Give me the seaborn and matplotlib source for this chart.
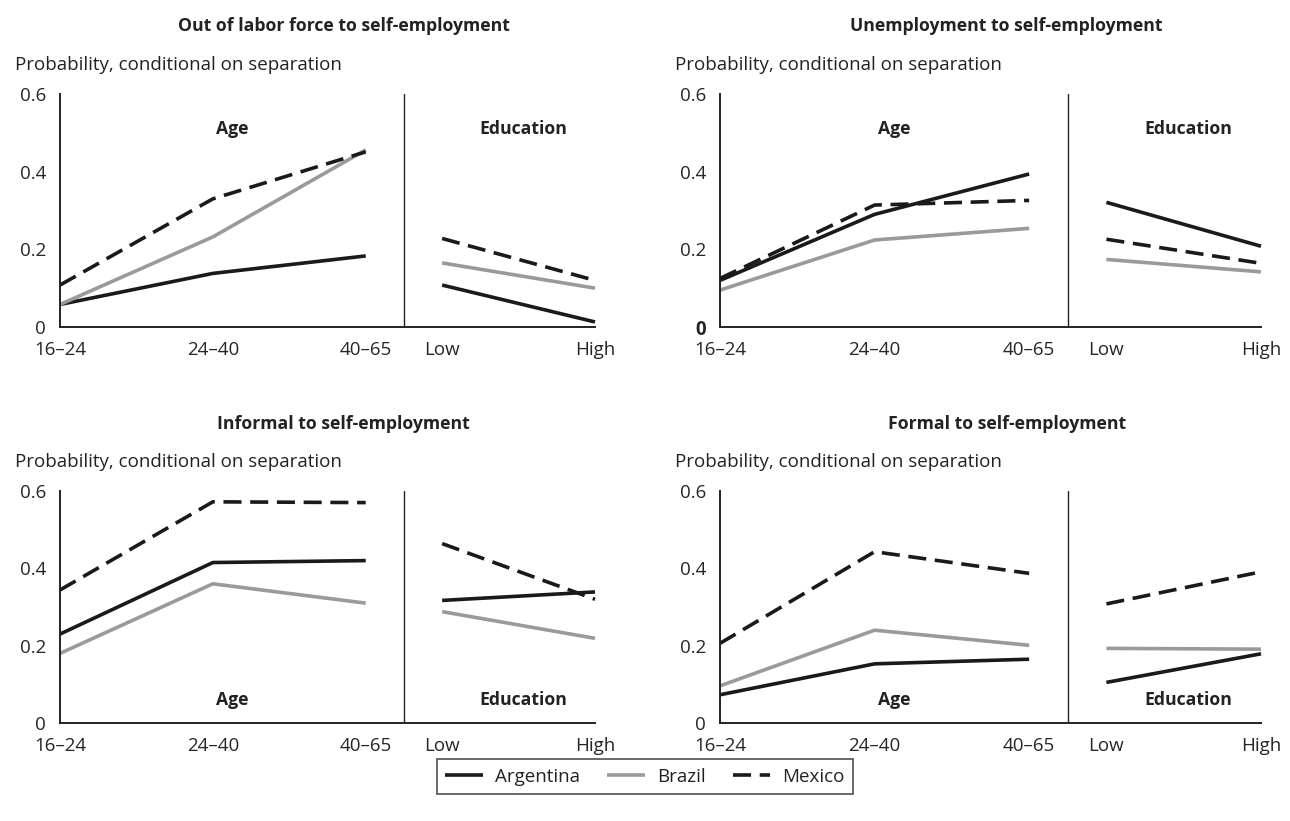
import numpy as np
import pandas as pd
import seaborn as sns
import matplotlib.pyplot as plt

countries = ["Argentina", "Brazil", "Mexico"]
age_groups = ["16–24", "24–40", "40–65"]
edu_groups = ["Low", "High"]

panel_titles = [
    "Out of labor force to self-employment",
    "Unemployment to self-employment",
    "Informal to self-employment",
    "Formal to self-employment",
]

# each list: three age groups, then low / high education
olf_values = {
    "Argentina": [0.058, 0.138, 0.183, 0.108, 0.013],
    "Brazil": [0.058, 0.232, 0.456, 0.165, 0.100],
    "Mexico": [0.108, 0.330, 0.451, 0.228, 0.120],
}
unemp_values = {
    "Argentina": [0.120, 0.290, 0.394, 0.321, 0.208],
    "Brazil": [0.095, 0.224, 0.254, 0.174, 0.142],
    "Mexico": [0.125, 0.314, 0.326, 0.226, 0.164],
}
informal_values = {
    "Argentina": [0.230, 0.415, 0.420, 0.317, 0.339],
    "Brazil": [0.180, 0.360, 0.310, 0.288, 0.219],
    "Mexico": [0.344, 0.572, 0.570, 0.464, 0.320],
}
formal_values = {
    "Argentina": [0.073, 0.153, 0.165, 0.105, 0.179],
    "Brazil": [0.096, 0.240, 0.201, 0.193, 0.191],
    "Mexico": [0.206, 0.443, 0.387, 0.308, 0.391],
}
panel_values = [olf_values, unemp_values, informal_values, formal_values]

palette = {"Argentina": "#1a1a1a", "Brazil": "#9a9a9a", "Mexico": "#1a1a1a"}
dashes = {"Argentina": "", "Brazil": "", "Mexico": (5.0, 2.4)}

# x layout: ages at 0,1,2 ; divider at 2.25 ; education at 2.5, 3.5
age_x = list(range(len(age_groups)))
edu_x = [2.5 + i for i in range(len(edu_groups))]
divider_x = 2.25


def panel_frame(values):
    rows = []
    for c in countries:
        v = values[c]
        for i, g in enumerate(age_groups):
            rows.append({"country": c, "x": age_x[i], "value": v[i], "segment": "age"})
        for i, g in enumerate(edu_groups):
            rows.append({"country": c, "x": edu_x[i], "value": v[3 + i], "segment": "edu"})
    return pd.DataFrame(rows)


sns.set_style("white")
plt.rcParams["font.family"] = ["Open Sans", "DejaVu Sans"]
plt.rcParams["text.color"] = "#222222"

FS = 13.5   # regular text
FB = 12.7   # bold text

fig = plt.figure(figsize=(12.9, 8.21), dpi=100)

W, H = 1290, 821
rects = [
    (60, 94, 595, 327),
    (720, 94, 1261, 327),
    (60, 491, 595, 723),
    (720, 491, 1261, 723),
]

axes = []
for k, (x0, y0, x1, y1) in enumerate(rects):
    ax = fig.add_axes([x0 / W, 1 - y1 / H, (x1 - x0) / W, (y1 - y0) / H])
    axes.append(ax)
    df = panel_frame(panel_values[k])
    sns.lineplot(
        data=df, x="x", y="value", hue="country", style="country",
        units="segment", estimator=None, palette=palette, dashes=dashes,
        linewidth=2.6, ax=ax, legend=(k == 0),
    )
    for ln in ax.lines:
        ln.set_clip_on(False)
        ln.set_solid_capstyle("butt")
        ln.set_dash_capstyle("butt")

    ax.axvline(divider_x, color="#222222", lw=1.0)
    ax.set_xlim(0, 3.5)
    ax.set_ylim(0, 0.6)
    ax.set_xticks(age_x + edu_x)
    ax.set_xticklabels(age_groups + edu_groups, fontsize=FS)
    ax.set_yticks([0, 0.2, 0.4, 0.6])
    ax.set_yticklabels(["0", "0.2", "0.4", "0.6"], fontsize=FS)
    if k == 1:
        ax.get_yticklabels()[0].set_fontweight("bold")
    ax.set_xlabel("")
    ax.set_ylabel("")
    sns.despine(ax=ax)
    for s in ["left", "bottom"]:
        ax.spines[s].set_linewidth(1.4)
        ax.spines[s].set_color("#222222")
    ax.tick_params(direction="out", length=5, width=1.4, color="#222222")
    ax.tick_params(axis="x", pad=5)
    ax.tick_params(axis="y", pad=5)

    ax.text(0.53, 1.29, panel_titles[k], transform=ax.transAxes, ha="center",
            va="center", fontsize=FB, fontweight="bold")
    ax.text(-0.084, 1.125, "Probability, conditional on separation",
            transform=ax.transAxes, ha="left", va="center", fontsize=FS)

    lab_y = 0.51 if k < 2 else 0.06
    ax.text(1.13, lab_y, "Age", ha="center", va="center", fontsize=FB, fontweight="bold")
    ax.text(3.03, lab_y, "Education", ha="center", va="center", fontsize=FB, fontweight="bold")

handles, labels = axes[0].get_legend_handles_labels()
axes[0].get_legend().remove()
leg = fig.legend(
    handles, labels, loc="center", bbox_to_anchor=(0.5, 0.054), ncol=3,
    frameon=True, fancybox=False, edgecolor="#222222", fontsize=FS,
    handlelength=2.0, handletextpad=0.65, columnspacing=1.45, borderpad=0.45,
)
leg.get_frame().set_linewidth(1.2)

plt.savefig("out.png", dpi=100)
plt.close()
